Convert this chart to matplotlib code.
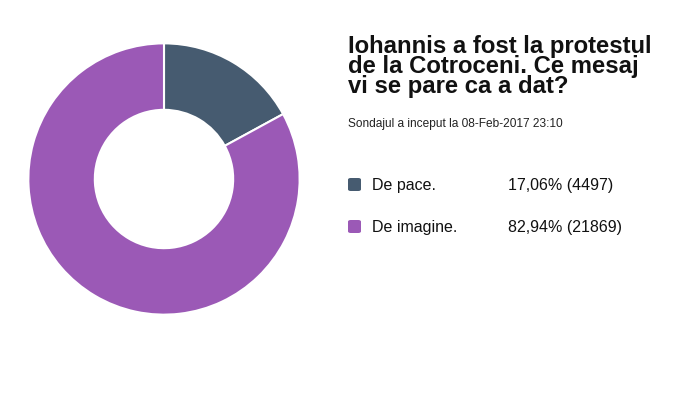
import matplotlib.pyplot as plt
from matplotlib.patches import FancyBboxPatch

W, H = 687, 394

labels = ['De pace.', 'De imagine.']
counts = [4497, 21869]
percents = ['17,06%', '82,94%']
colors = ['#465b70', '#9b59b6']

title = 'Iohannis a fost la protestul\nde la Cotroceni. Ce mesaj\nvi se pare ca a dat?'
subtitle = 'Sondajul a inceput la 08-Feb-2017 23:10'

plt.rcParams['font.family'] = ['Liberation Sans', 'DejaVu Sans']

fig = plt.figure(figsize=(W / 100, H / 100), dpi=100)

def fx(x):
    return x / W

def fy(y):
    return 1 - y / H

# donut
cx, cy, r = 164, 179, 137
ax = fig.add_axes([fx(cx - r), fy(cy + r), 2 * r / W, 2 * r / H])
ax.pie(counts, colors=colors, startangle=90, counterclock=False, radius=1,
       wedgeprops=dict(width=0.49, edgecolor='white', linewidth=1.5))
ax.set_xlim(-1.01, 1.01)
ax.set_ylim(-1.01, 1.01)
ax.axis('off')

fig.text(fx(348), fy(93), title, fontsize=17.2, fontweight='bold',
         va='baseline', ha='left', linespacing=0.82, color='#111111')
fig.text(fx(348), fy(127), subtitle, fontsize=8.6, va='baseline',
         ha='left', color='#222222')

rows_y = [190, 232]
for i in range(len(labels)):
    y = rows_y[i]
    box = FancyBboxPatch((fx(348), fy(y + 1)), 13 / W, 13 / H,
                         boxstyle='round,pad=0,rounding_size=0.004',
                         transform=fig.transFigure, facecolor=colors[i],
                         edgecolor='none')
    fig.patches.append(box)
    fig.text(fx(372), fy(y), labels[i], fontsize=11.5, va='baseline',
             ha='left', color='#111111')
    fig.text(fx(508), fy(y), '%s (%d)' % (percents[i], counts[i]),
             fontsize=11.5, va='baseline', ha='left', color='#111111')

fig.savefig('out.png', dpi=100)
